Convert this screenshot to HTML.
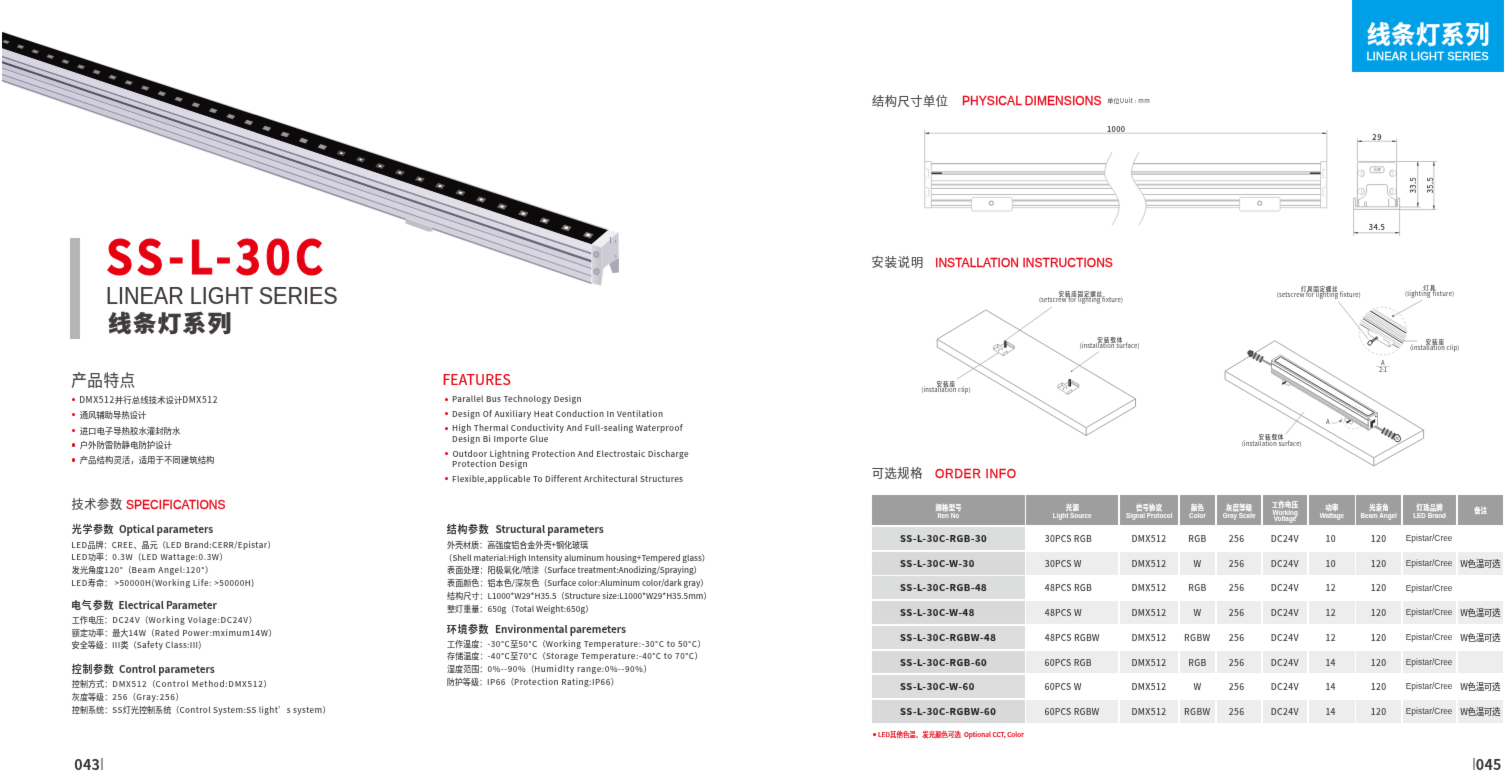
<!DOCTYPE html>
<html lang="zh-CN">
<head>
<meta charset="utf-8">
<title>SS-L-30C 线条灯系列 LINEAR LIGHT SERIES</title>
<style>
html,body{margin:0;padding:0}
html{overflow:hidden;background:#fff}
body{width:1506px;height:776px;position:relative;overflow:hidden;background:#fff;font-family:"Liberation Sans","Noto Sans CJK SC",sans-serif;-webkit-font-smoothing:antialiased}
h1,h2,h3,p,ul,li,table,thead,tbody,tr,th,td,figure{margin:0;padding:0;font-weight:inherit;font-size:inherit;list-style:none;border:0}
table,thead,tbody,tr{display:block}
.t{position:absolute;white-space:pre;display:block}
svg{position:absolute;left:0;top:0;overflow:visible}
.c{letter-spacing:0}
.dot{position:absolute;border-radius:50%;background:#e60012;display:block}
.bar{position:absolute;background:#b5b5b6;display:block}
.rule{position:absolute;background:#9a9a9a;display:block}
.tag{position:absolute;background:#00a0e9}
.tagen{-webkit-text-stroke:.3px #fff}
.tagcn{-webkit-text-stroke:.3px #fff}
.model{-webkit-text-stroke:1.1px #e60012}
.series-cn{-webkit-text-stroke:.35px #3e3a39}
.series-en{-webkit-text-stroke:.2px #3e3a39}
.td1{-webkit-text-stroke:.15px #1f1f1f}
.h3en{-webkit-text-stroke:.3px #e60012}
.h3cn,.h2cn{-webkit-text-stroke:.15px #4a4645}
.h2en{-webkit-text-stroke:.2px #e60012}
.thc{-webkit-text-stroke:.2px #fff}
.note{-webkit-text-stroke:.15px #e60012}
.sheet{position:absolute;left:0;top:0;width:1506px;height:776px;overflow:hidden;background:#fff}
.spread{position:absolute;display:block;left:-12px;top:-12px;width:1530px;height:800px;background:#fff;filter:url(#soft)}
.origin{position:absolute;left:12px;top:12px;width:1506px;height:776px}
.defs{position:absolute;width:0;height:0}
th,td{position:absolute;display:block;box-sizing:border-box}
th{background:#9e9e9f}
td{background:#fff}
tr.even td{background:#ededed}
td.c1{background:#dcdddd}
tr.even td.c1{background:#d9d9da}
.model{font:700 46.2px/67px "Noto Sans CJK SC", "Liberation Sans", sans-serif;color:#e60012}
.series-en{font:400 23.4px/35px "Liberation Sans", "Noto Sans CJK SC", sans-serif;color:#3e3a39}
.series-cn{font:900 24px/36px "Noto Sans CJK SC", "Liberation Sans", sans-serif;color:#3e3a39}
.h2cn{font:400 15.6px/24px "Noto Sans CJK SC", "Liberation Sans", sans-serif;color:#4a4645}
.h2en{font:400 13.9px/21px "Noto Sans CJK SC", "Liberation Sans", sans-serif;color:#e60012}
.h3cn{font:400 12.2px/19px "Noto Sans CJK SC", "Liberation Sans", sans-serif;color:#4a4645}
.h3en{font:400 12.9px/20px "Liberation Sans", "Noto Sans CJK SC", sans-serif;color:#e60012}
.li{font:500 8.45px/14px "Noto Sans CJK SC", "Liberation Sans", sans-serif;color:#444}
.lie{font:500 8.15px/13px "Noto Sans CJK SC", "Liberation Sans", sans-serif;color:#404040}
.h4{font:700 10px/16px "Noto Sans CJK SC", "Liberation Sans", sans-serif;color:#333}
.p{font:500 8.1px/13px "Noto Sans CJK SC", "Liberation Sans", sans-serif;color:#444}
.pn{font:700 14.2px/22px "Noto Sans CJK SC", "Liberation Sans", sans-serif;color:#333}
.tagcn{font:700 24.5px/36px "Noto Sans CJK SC", "Liberation Sans", sans-serif;color:#fff}
.tagen{font:400 11px/17px "Liberation Sans", "Noto Sans CJK SC", sans-serif;color:#fff}
.unit{font:400 6px/10px "Noto Sans CJK SC", "Liberation Sans", sans-serif;color:#444}
.dim{font:500 7.5px/12px "Noto Sans CJK SC", "Liberation Sans", sans-serif;color:#2a2a2a}
.tiny{font:400 3.8px/7px "Noto Sans CJK SC", "Liberation Sans", sans-serif;color:#777}
.lab{font:400 5.9px/10px "Noto Sans CJK SC", "Liberation Sans", sans-serif;color:#3c3c3c}
.labc{font:500 5.6px/10px "Noto Sans CJK SC", "Liberation Sans", sans-serif;color:#3c3c3c}
.thc{font:700 6.3px/11px "Noto Sans CJK SC", "Liberation Sans", sans-serif;color:#fff}
.the{font:700 6.35px/11px "Liberation Sans", "Noto Sans CJK SC", sans-serif;color:#fff}
.td1{font:700 9.5px/15px "Noto Sans CJK SC", "Liberation Sans", sans-serif;color:#1f1f1f}
.td{font:500 8.6px/14px "Noto Sans CJK SC", "Liberation Sans", sans-serif;color:#3c3c3c}
.tdb{font:400 8.4px/14px "Liberation Sans", "Noto Sans CJK SC", sans-serif;color:#3a3a3a}
.note{font:500 6.4px/11px "Noto Sans CJK SC", "Liberation Sans", sans-serif;color:#e60012}</style>
</head>
<body>
<svg class="defs" width="0" height="0" aria-hidden="true"><defs><filter id="soft" color-interpolation-filters="sRGB"><feConvolveMatrix order="3" kernelMatrix="0 1 0 1 10 1 0 1 0" divisor="14" edgeMode="duplicate" preserveAlpha="true"/></filter></defs></svg>
<div class="sheet">
<main class="spread">
<div class="origin">
<section class="page page-left">
<svg class="product" width="640" height="300" viewBox="0 0 640 300" role="img" aria-label="SS-L-30C linear light">
<defs>
<linearGradient id="gb1" gradientUnits="userSpaceOnUse" x1="2" y1="0" x2="592" y2="0"><stop offset="0" stop-color="#d7d5e2"/><stop offset="1" stop-color="#e4e3eb"/></linearGradient>
<linearGradient id="gl1" gradientUnits="userSpaceOnUse" x1="2" y1="0" x2="592" y2="0"><stop offset="0" stop-color="#7d7a8e"/><stop offset="1" stop-color="#8f8d9e"/></linearGradient>
<linearGradient id="gb2" gradientUnits="userSpaceOnUse" x1="2" y1="0" x2="592" y2="0"><stop offset="0" stop-color="#cdcbd9"/><stop offset="1" stop-color="#dcdbe5"/></linearGradient>
<linearGradient id="gl2" gradientUnits="userSpaceOnUse" x1="2" y1="0" x2="592" y2="0"><stop offset="0" stop-color="#514e63"/><stop offset="1" stop-color="#6a687b"/></linearGradient>
<linearGradient id="gb3" gradientUnits="userSpaceOnUse" x1="2" y1="0" x2="592" y2="0"><stop offset="0" stop-color="#c9c7d6"/><stop offset="1" stop-color="#d3d2dd"/></linearGradient>
<linearGradient id="gl3" gradientUnits="userSpaceOnUse" x1="2" y1="0" x2="592" y2="0"><stop offset="0" stop-color="#8d8b9e"/><stop offset="1" stop-color="#a2a0b1"/></linearGradient>
<linearGradient id="gb4" gradientUnits="userSpaceOnUse" x1="2" y1="0" x2="592" y2="0"><stop offset="0" stop-color="#d0cedc"/><stop offset="1" stop-color="#d9d8e2"/></linearGradient>
<linearGradient id="gl4" gradientUnits="userSpaceOnUse" x1="2" y1="0" x2="592" y2="0"><stop offset="0" stop-color="#8f8da0"/><stop offset="1" stop-color="#a5a3b3"/></linearGradient>
<linearGradient id="gb5" gradientUnits="userSpaceOnUse" x1="2" y1="0" x2="592" y2="0"><stop offset="0" stop-color="#cbc9d8"/><stop offset="1" stop-color="#d5d4de"/></linearGradient>
<linearGradient id="gl5" gradientUnits="userSpaceOnUse" x1="2" y1="0" x2="592" y2="0"><stop offset="0" stop-color="#7f7d90"/><stop offset="1" stop-color="#9391a2"/></linearGradient>
<linearGradient id="gcap" x1="0" y1="0" x2="1" y2="0"><stop offset="0" stop-color="#d9d8de"/><stop offset="1" stop-color="#c4c3cb"/></linearGradient>
</defs>
<polygon points="2,80.6 591.5,283.4 592,284.6 2,82" fill="#b9b7c6" opacity=".5"/>
<polygon points="2,31.6 300,128.4 608.8,229.2 609,231 2,33" fill="#d3d2dc"/>
<polygon points="2,31.9 608,230.3 591.5,244.5 2,48.5" fill="#0d0a0b"/>
<polygon points="2,48.3 591.5,244.3 591.5,252.6 2,55.8" fill="url(#gb1)"/>
<polygon points="2,55.8 591.5,252.6 591.5,254.7 2,57.6" fill="url(#gl1)"/>
<polygon points="2,57.6 591.5,254.7 591.5,260.1 2,61.1" fill="url(#gb2)"/>
<polygon points="2,61.1 591.5,260.1 591.5,262.8 2,63.4" fill="url(#gl2)"/>
<polygon points="2,63.4 591.5,262.8 591.5,267.8 2,67.4" fill="url(#gb3)"/>
<polygon points="2,67.4 591.5,267.8 591.5,269.4 2,68.8" fill="url(#gl3)"/>
<polygon points="2,68.8 591.5,269.4 591.5,275.3 2,73.8" fill="url(#gb4)"/>
<polygon points="2,73.8 591.5,275.3 591.5,277.1 2,75.3" fill="url(#gl4)"/>
<polygon points="2,75.3 591.5,277.1 591.5,282.4 2,79.8" fill="url(#gb5)"/>
<polygon points="2,79.8 591.5,282.4 591.5,283.9 2,81.1" fill="url(#gl5)"/>
<g class="leds"><polygon points="4.3,39.71 9.7,41.49 7.7,44.09 2.3,42.31" fill="#787575"/><ellipse cx="6" cy="41.9" rx="1.3" ry="0.8" fill="#a3a1a1"/><polygon points="18.8,44.49 24.26,46.29 22.23,48.94 16.76,47.14" fill="#797676"/><ellipse cx="20.51" cy="46.72" rx="1.3" ry="0.8" fill="#a3a1a1"/><polygon points="33.54,49.35 39.06,51.17 36.99,53.87 31.46,52.05" fill="#7b7878"/><ellipse cx="35.26" cy="51.61" rx="1.3" ry="0.8" fill="#a3a1a1"/><polygon points="48.51,54.29 54.1,56.13 51.99,58.88 46.4,57.04" fill="#7d7a7a"/><ellipse cx="50.25" cy="56.58" rx="1.3" ry="0.8" fill="#a3a1a1"/><polygon points="63.73,59.3 69.38,61.17 67.23,63.97 61.58,62.1" fill="#7f7c7c"/><ellipse cx="65.48" cy="61.64" rx="1.3" ry="0.8" fill="#a3a1a1"/><polygon points="79.18,64.4 84.89,66.29 82.7,69.14 76.99,67.25" fill="#807d7d"/><ellipse cx="80.94" cy="66.77" rx="1.3" ry="0.8" fill="#a3a1a1"/><polygon points="94.86,69.57 100.64,71.48 98.41,74.38 92.64,72.47" fill="#827f7f"/><ellipse cx="96.64" cy="71.98" rx="1.3" ry="0.8" fill="#a3a1a1"/><polygon points="110.79,74.83 116.63,76.75 114.36,79.7 108.53,77.78" fill="#848181"/><ellipse cx="112.58" cy="77.27" rx="1.3" ry="0.8" fill="#a3a1a1"/><polygon points="126.95,80.16 132.85,82.11 130.55,85.11 124.65,83.16" fill="#868383"/><ellipse cx="128.75" cy="82.63" rx="1.3" ry="0.8" fill="#a3a1a1"/><polygon points="143.35,85.57 149.31,87.54 146.98,90.59 141.01,88.62" fill="#888585"/><ellipse cx="145.16" cy="88.08" rx="1.3" ry="0.8" fill="#a3a1a1"/><polygon points="159.99,91.06 166.01,93.05 163.64,96.15 157.62,94.16" fill="#898686"/><ellipse cx="161.81" cy="93.61" rx="1.3" ry="0.8" fill="#a3a1a1"/><polygon points="176.87,96.63 182.95,98.64 180.54,101.79 174.45,99.78" fill="#8b8888"/><ellipse cx="178.7" cy="99.21" rx="1.3" ry="0.8" fill="#a3a1a1"/><polygon points="193.98,102.28 200.13,104.31 197.68,107.51 191.53,105.48" fill="#8d8a8a"/><ellipse cx="195.83" cy="104.89" rx="1.3" ry="0.8" fill="#a3a1a1"/><polygon points="211.33,108 217.54,110.05 215.05,113.3 208.84,111.25" fill="#8f8c8c"/><ellipse cx="213.19" cy="110.65" rx="1.3" ry="0.8" fill="#a3a1a1"/><polygon points="228.92,113.81 235.19,115.88 232.67,119.18 226.39,117.11" fill="#918e8e"/><ellipse cx="230.79" cy="116.49" rx="1.3" ry="0.8" fill="#a3a1a1"/><polygon points="246.74,119.69 253.08,121.78 250.52,125.13 244.18,123.04" fill="#928f8f"/><ellipse cx="248.63" cy="122.41" rx="1.3" ry="0.8" fill="#a3a1a1"/><polygon points="264.8,125.66 271.2,127.77 268.6,131.17 262.2,129.06" fill="#949191"/><ellipse cx="266.7" cy="128.41" rx="1.3" ry="0.8" fill="#a3a1a1"/><polygon points="283.1,131.7 289.57,133.83 286.93,137.28 280.47,135.15" fill="#969393"/><ellipse cx="285.02" cy="134.49" rx="1.3" ry="0.8" fill="#a3a1a1"/><polygon points="301.64,137.82 308.17,139.97 305.49,143.47 298.97,141.32" fill="#989595"/><ellipse cx="303.57" cy="140.64" rx="1.3" ry="0.8" fill="#a3a1a1"/><polygon points="320.42,144.02 327,146.19 324.29,149.74 317.7,147.57" fill="#9a9797"/><ellipse cx="322.35" cy="146.88" rx="1.3" ry="0.8" fill="#a3a1a1"/><polygon points="339.43,150.3 346.08,152.49 343.33,156.09 336.68,153.9" fill="#585250"/><ellipse cx="341.38" cy="153.19" rx="1.3" ry="0.85" fill="#fff"/><polygon points="358.68,156.65 365.39,158.87 362.61,162.52 355.89,160.3" fill="#5b5553"/><ellipse cx="360.64" cy="159.58" rx="1.35" ry="0.89" fill="#fff"/><polygon points="378.17,163.09 384.94,165.32 382.12,169.02 375.34,166.79" fill="#5e5856"/><ellipse cx="380.14" cy="166.06" rx="1.41" ry="0.92" fill="#fff"/><polygon points="397.89,169.6 404.73,171.86 401.87,175.61 395.03,173.35" fill="#625c5a"/><ellipse cx="399.88" cy="172.61" rx="1.46" ry="0.96" fill="#fff"/><polygon points="417.86,176.2 424.76,178.47 421.86,182.27 414.96,180" fill="#655f5d"/><ellipse cx="419.86" cy="179.23" rx="1.52" ry="0.99" fill="#fff"/><polygon points="438.06,182.87 445.02,185.17 442.08,189.02 435.12,186.72" fill="#686260"/><ellipse cx="440.07" cy="185.94" rx="1.57" ry="1.03" fill="#fff"/><polygon points="458.49,189.62 465.52,191.94 462.54,195.84 455.52,193.52" fill="#6c6664"/><ellipse cx="460.52" cy="192.73" rx="1.62" ry="1.06" fill="#fff"/><polygon points="479.17,196.45 486.26,198.79 483.24,202.74 476.16,200.4" fill="#6f6967"/><ellipse cx="481.21" cy="199.59" rx="1.68" ry="1.1" fill="#fff"/><polygon points="500.08,203.36 507.23,205.72 504.18,209.72 497.03,207.36" fill="#726c6a"/><ellipse cx="502.13" cy="206.54" rx="1.73" ry="1.13" fill="#fff"/><polygon points="521.23,210.34 528.44,212.72 525.36,216.77 518.14,214.39" fill="#76706e"/><ellipse cx="523.29" cy="213.56" rx="1.79" ry="1.17" fill="#fff"/><polygon points="542.62,217.41 549.89,219.81 546.77,223.91 539.49,221.51" fill="#797371"/><ellipse cx="544.69" cy="220.66" rx="1.84" ry="1.2" fill="#fff"/><polygon points="564.25,224.56 571.58,226.98 568.42,231.13 561.08,228.71" fill="#7c7674"/><ellipse cx="566.33" cy="227.84" rx="1.9" ry="1.24" fill="#fff"/><polygon points="586.11,231.78 593.51,234.22 590.31,238.42 582.91,235.98" fill="#807a78"/><ellipse cx="588.21" cy="235.1" rx="1.95" ry="1.27" fill="#fff"/></g>
<polygon points="405.5,217 432.5,226.5 432.5,231.5 428,231.6 405.5,223.6" fill="#c0bfc9"/>
<polygon points="405.5,217 432.5,226.5 432.5,228 405.5,218.5" fill="#dad9e1"/>
<polygon points="591.5,244.3 608,230.2 618.6,232.2 601.2,247.4" fill="#efeef2"/>
<polygon points="601.2,247.4 618.6,232.2 618.8,272.2 612.6,273 609.5,263.5 603.5,268.5 601.2,285.6" fill="#cdccd4"/>
<polygon points="591.5,244.3 601.2,247.4 601.2,285.6 592.3,283.6" fill="url(#gcap)"/>
<polygon points="609.3,264 618.8,258 618.8,272.2 612.6,273" fill="#a9a8b3"/>
<ellipse cx="596.3" cy="254.4" rx="2.6" ry="3" fill="#b5b3bf" stroke="#8d8b99" stroke-width=".8"/>
<ellipse cx="596.5" cy="271.6" rx="2.6" ry="3" fill="#b5b3bf" stroke="#8d8b99" stroke-width=".8"/>
<path d="M610.5 237v6.5M615.6 240.2v2.6M615.8 255v2.4" stroke="#9896a3" stroke-width="1.1" fill="none"/>
</svg>
<header class="title">
<i class="bar" style="left:70.1px;top:237.6px;width:9.6px;height:101.4px"></i>
<h1 class="t model" style="left:105.92px;top:220.2px;transform-origin:0 0;transform:scaleX(0.93);letter-spacing:4.66px;">SS-L-30C</h1>
<p class="t series-en" style="left:106.15px;top:278.9px;transform-origin:0 0;transform:scaleX(0.92);">LINEAR LIGHT SERIES</p>
<p class="t series-cn" style="left:108.25px;top:302.56px;transform-origin:0 0;transform:scaleX(1.06);font-size:22.09px;letter-spacing:1.43px;">线条灯系列</p>
</header>
<section class="features-cn">
<h2 class="t h2cn" style="left:71.29px;top:367.2px;letter-spacing:0.46px;">产品特点</h2>
<ul>
<li><span class="t li" style="left:79.13px;top:391.8px;letter-spacing:0.56px;"><i class="dot" style="left:-7.23px;top:6.1px;width:3.2px;height:3.2px"></i>DMX512<span class="c">并行总线技术设计</span>DMX512</span></li>
<li><span class="t li" style="left:79.68px;top:407.1px;letter-spacing:-0.13px;"><i class="dot" style="left:-7.78px;top:6.1px;width:3.2px;height:3.2px"></i>通风辅助导热设计</span></li>
<li><span class="t li" style="left:79.68px;top:422.5px;letter-spacing:-0.05px;"><i class="dot" style="left:-7.78px;top:6.1px;width:3.2px;height:3.2px"></i>进口电子导热胶水灌封防水</span></li>
<li><span class="t li" style="left:79.68px;top:437.4px;letter-spacing:-0.05px;"><i class="dot" style="left:-7.78px;top:6.1px;width:3.2px;height:3.2px"></i>户外防雷防静电防护设计</span></li>
<li><span class="t li" style="left:79.68px;top:452.4px;letter-spacing:-0.01px;"><i class="dot" style="left:-7.78px;top:6.1px;width:3.2px;height:3.2px"></i>产品结构灵活，适用于不同建筑结构</span></li>
</ul></section>
<section class="features-en">
<h2 class="t h2en" style="left:442.49px;top:368.9px;letter-spacing:0.19px;">FEATURES</h2>
<ul>
<li>
<span class="t lie" style="left:452.09px;top:391.9px;letter-spacing:0.32px;"><i class="dot" style="left:-7.19px;top:5.7px;width:3px;height:3px"></i>Parallel Bus Technology Design</span>
</li>
<li>
<span class="t lie" style="left:452.09px;top:406.5px;letter-spacing:0.35px;"><i class="dot" style="left:-7.19px;top:5.7px;width:3px;height:3px"></i>Design Of Auxiliary Heat Conduction In Ventilation</span>
</li>
<li>
<span class="t lie" style="left:452.09px;top:421.2px;letter-spacing:0.33px;"><i class="dot" style="left:-7.19px;top:5.7px;width:3px;height:3px"></i>High Thermal Conductivity And Full-sealing Waterproof</span>
<span class="t lie" style="left:452.09px;top:431.8px;letter-spacing:0.37px;">Design Bi Importe Glue</span>
</li>
<li>
<span class="t lie" style="left:452.39px;top:446.7px;letter-spacing:0.33px;"><i class="dot" style="left:-7.49px;top:5.7px;width:3px;height:3px"></i>Outdoor Lightning Protection And Electrostaic Discharge</span>
<span class="t lie" style="left:452.09px;top:456.9px;letter-spacing:0.42px;">Protection Design</span>
</li>
<li>
<span class="t lie" style="left:452.09px;top:471.8px;letter-spacing:0.29px;"><i class="dot" style="left:-7.19px;top:5.7px;width:3px;height:3px"></i>Flexible,applicable To Different Architectural Structures</span>
</li>
</ul></section>
<section class="specs">
<h2 class="h">
<span class="t h3cn" style="left:71.55px;top:495.1px;letter-spacing:0.6px;">技术参数</span>
<span class="t h3en" style="left:126.13px;top:494.6px;transform-origin:0 0;transform:scaleX(0.93);letter-spacing:0.04px;">SPECIFICATIONS</span>
</h2>
<div class="group">
<h3><span class="t h4" style="left:71.82px;top:521.3px;letter-spacing:0.6px;">光学参数</span><span class="t h4" style="left:118.92px;top:521.3px;letter-spacing:0.01px;">Optical parameters</span></h3>
<p class="t p" style="left:71.29px;top:537.5px;letter-spacing:0.37px;">LED<span class="c">品牌：</span>CREE<span class="c">、晶元（</span>LED Brand:CERR/Epistar<span class="c">）</span></p>
<p class="t p" style="left:71.29px;top:550.3px;letter-spacing:0.54px;">LED<span class="c">功率：</span>0.3W<span class="c">（</span>LED Wattage:0.3W<span class="c">）</span></p>
<p class="t p" style="left:71.84px;top:563.1px;letter-spacing:0.56px;"><span class="c">发光角度</span>120°<span class="c">（</span>Beam Angel:120°<span class="c">）</span></p>
<p class="t p" style="left:71.29px;top:575.9px;letter-spacing:0.49px;">LED<span class="c">寿命：</span> &gt;50000H(Working Life: &gt;50000H)</p>
</div>
<div class="group">
<h3><span class="t h4" style="left:70.92px;top:596.8px;letter-spacing:0.9px;">电气参数</span><span class="t h4" style="left:118.52px;top:596.8px;letter-spacing:-0.09px;">Electrical Parameter</span></h3>
<p class="t p" style="left:71.69px;top:612.5px;letter-spacing:0.65px;"><span class="c">工作电压：</span>DC24V<span class="c">（</span>Working Volage:DC24V<span class="c">）</span></p>
<p class="t p" style="left:71.79px;top:625.5px;letter-spacing:0.54px;"><span class="c">额定功率：最大</span>14W<span class="c">（</span>Rated Power:mximum14W<span class="c">）</span></p>
<p class="t p" style="left:71.54px;top:638.3px;letter-spacing:0.34px;"><span class="c">安全等级：</span>III<span class="c">类（</span>Safety Class:III)</p>
</div>
<div class="group">
<h3><span class="t h4" style="left:71.77px;top:661.3px;letter-spacing:0.62px;">控制参数</span><span class="t h4" style="left:118.92px;top:661.3px;letter-spacing:-0.01px;">Control parameters</span></h3>
<p class="t p" style="left:71.84px;top:676.8px;letter-spacing:0.67px;"><span class="c">控制方式：</span>DMX512<span class="c">（</span>Control Method:DMX512<span class="c">）</span></p>
<p class="t p" style="left:71.79px;top:689.8px;letter-spacing:0.65px;"><span class="c">灰度等级：</span>256<span class="c">（</span>Gray:256<span class="c">）</span></p>
<p class="t p" style="left:71.84px;top:702.8px;letter-spacing:0.35px;"><span class="c">控制系统：</span>SS<span class="c">灯光控制系统（</span>Control System:SS light’s system<span class="c">）</span></p>
</div>
<div class="group">
<h3><span class="t h4" style="left:446.87px;top:521px;letter-spacing:0.59px;">结构参数</span><span class="t h4" style="left:495.52px;top:521px;letter-spacing:-0.02px;">Structural parameters</span></h3>
<p class="t p" style="left:446.99px;top:537.7px;letter-spacing:-0.06px;">外壳材质：高强度铝合金外壳+钢化玻璃</p>
<p class="t p" style="left:444.34px;top:550.5px;">（Shell material:High Intensity aluminum housing+Tempered glass）</p>
<p class="t p" style="left:447.04px;top:563.3px;letter-spacing:-0.07px;"><span class="c">表面处理：阳极氧化</span>/<span class="c">喷涂（</span>Surface treatment:Anodizing/Spraying<span class="c">）</span></p>
<p class="t p" style="left:447.04px;top:576.2px;letter-spacing:-0.02px;"><span class="c">表面颜色：铝本色</span>/<span class="c">深灰色（</span>Surface color:Aluminum color/dark gray<span class="c">）</span></p>
<p class="t p" style="left:447.09px;top:589px;letter-spacing:-0.04px;"><span class="c">结构尺寸：</span>L1000*W29*H35.5<span class="c">（</span>Structure size:L1000*W29*H35.5mm<span class="c">）</span></p>
<p class="t p" style="left:446.99px;top:601.8px;letter-spacing:0.1px;"><span class="c">整灯重量：</span>650g<span class="c">（</span>Total Weight:650g<span class="c">）</span></p>
</div>
<div class="group">
<h3><span class="t h4" style="left:446.82px;top:620.8px;letter-spacing:0.6px;">环境参数</span><span class="t h4" style="left:495.02px;top:620.8px;letter-spacing:-0.05px;">Environmental paremeters</span></h3>
<p class="t p" style="left:446.89px;top:636.6px;letter-spacing:0.47px;"><span class="c">工作温度：</span>-30°C<span class="c">至</span>50°C<span class="c">（</span>Working Temperature:-30°C to 50°C<span class="c">）</span></p>
<p class="t p" style="left:447.04px;top:649.2px;letter-spacing:0.46px;"><span class="c">存储温度：</span>-40°C<span class="c">至</span>70°C<span class="c">（</span>Storage Temperature:-40°C to 70°C<span class="c">）</span></p>
<p class="t p" style="left:446.99px;top:662.2px;letter-spacing:0.55px;"><span class="c">湿度范围：</span>0%--90%<span class="c">（</span>Humidlty range:0%--90%<span class="c">）</span></p>
<p class="t p" style="left:446.64px;top:674.9px;letter-spacing:0.45px;"><span class="c">防护等级：</span>IP66<span class="c">（</span>Protection Rating:IP66<span class="c">）</span></p>
</div>
</section>
<footer class="pageno">
<span class="t pn" style="left:74.35px;top:753.1px;letter-spacing:0.23px;">043</span>
<i class="rule" style="left:101.2px;top:758px;width:1.6px;height:12.2px"></i>
</footer>
</section>
<section class="page page-right">
<div class="tag" style="left:1352px;top:-8px;width:152px;height:80px">
<span class="t tagcn" style="left:14.67px;top:23.17px;font-size:23.92px;letter-spacing:0.78px;">线条灯系列</span>
<span class="t tagen" style="left:14.41px;top:55.6px;letter-spacing:0.21px;">LINEAR LIGHT SERIES</span>
</div>
<section class="dimensions">
<h2 class="h">
<span class="t h3cn" style="left:872.05px;top:91.6px;letter-spacing:0.54px;">结构尺寸单位</span>
<span class="t h3en" style="left:961.57px;top:90.9px;transform-origin:0 0;transform:scaleX(0.93);letter-spacing:0.08px;">PHYSICAL DIMENSIONS</span>
</h2>
<span class="t unit" style="left:1107.25px;top:95.7px;letter-spacing:0.31px;">单位Uuit : mm</span>
<svg class="fig fig-side" width="1506" height="776" viewBox="0 0 1506 776" role="img" aria-label="side view with length dimension">
<defs><clipPath id="cpL"><path d="M900 140 H1112 C1108 160 1104.7 166 1104.7 173.5 C1104.7 183 1119.3 193 1119.3 205.5 C1119.3 212 1116 219 1112 225.3 H900Z"/></clipPath>
<clipPath id="cpR"><path d="M1340 140 H1138.8 C1134.8 160 1131.5 166 1131.5 173.5 C1131.5 183 1146.1 193 1146.1 205.5 C1146.1 212 1142.8 219 1138.8 225.3 H1340Z"/></clipPath></defs>
<g clip-path="url(#cpL)" fill="none">
<path d="M931.3 163.6H1125" stroke="#b4b4b4" stroke-width="1.1"/>
<path d="M931.3 171.9H1125" stroke="#b8b8b8" stroke-width="1.3"/>
<path d="M931.3 174.1H1125" stroke="#a49a9a" stroke-width="1"/>
<path d="M931.3 180.7H1125" stroke="#cdcdcd" stroke-width="1.1"/>
<path d="M931.3 184.7H1125" stroke="#c2c2c2" stroke-width="1.8"/>
<path d="M931.3 188.4H1125" stroke="#bababa" stroke-width="1"/>
<path d="M931.3 194.5H1125" stroke="#bdbdbd" stroke-width="1"/>
<path d="M931.3 200.5H1125" stroke="#bdbdbd" stroke-width="1.9"/>
<path d="M931.3 205.4H1125" stroke="#b6b6b6" stroke-width="1"/>
<path d="M931.3 207.6H1125" stroke="#c8c8c8" stroke-width="0.9"/>
</g>
<g clip-path="url(#cpR)" fill="none">
<path d="M1125 163.6H1320.6" stroke="#b4b4b4" stroke-width="1.1"/>
<path d="M1125 171.9H1320.6" stroke="#b8b8b8" stroke-width="1.3"/>
<path d="M1125 174.1H1320.6" stroke="#a49a9a" stroke-width="1"/>
<path d="M1125 180.7H1320.6" stroke="#cdcdcd" stroke-width="1.1"/>
<path d="M1125 184.7H1320.6" stroke="#c2c2c2" stroke-width="1.8"/>
<path d="M1125 188.4H1320.6" stroke="#bababa" stroke-width="1"/>
<path d="M1125 194.5H1320.6" stroke="#bdbdbd" stroke-width="1"/>
<path d="M1125 200.5H1320.6" stroke="#bdbdbd" stroke-width="1.9"/>
<path d="M1125 205.4H1320.6" stroke="#b6b6b6" stroke-width="1"/>
<path d="M1125 207.6H1320.6" stroke="#c8c8c8" stroke-width="0.9"/>
</g>
<g fill="none" stroke="#b2b2b2" stroke-width=".7">
<path d="M1112 152.2 C1108 160 1104.7 166 1104.7 173.5 C1104.7 183 1119.3 193 1119.3 205.5 C1119.3 212 1116 219 1112 225.3"/><path d="M1138.8 152.2 C1134.8 160 1131.5 166 1131.5 173.5 C1131.5 183 1146.1 193 1146.1 205.5 C1146.1 212 1142.8 219 1138.8 225.3"/>
<path d="M924.7 161.6V207.8H931.3V161.6Z"/>
<path d="M1326.8 161.6V207.8H1320.6V161.6Z"/>
<path d="M926.2 169.3h2.4v8.2h-2.4M926.2 187.6h2.4v8.2h-2.4" stroke-dasharray="1.6 .9"/>
<path d="M1325.3 169.3h-2.4v8.2h2.4M1325.3 187.6h-2.4v8.2h2.4" stroke-dasharray="1.6 .9"/>
</g>
<path d="M931.5 173.2H942M1310 173.2H1320.5" stroke="#3a3030" stroke-width="1.6" fill="none"/>
<rect x="971.6" y="197.4" width="40.6" height="13.6" rx="1.6" fill="#fff" stroke="#c4c4c4" stroke-width=".8"/>
<circle cx="991.3" cy="203.2" r="2.1" fill="#fff" stroke="#777" stroke-width=".8"/>
<rect x="1239.6" y="197.4" width="40.6" height="13.6" rx="1.6" fill="#fff" stroke="#c4c4c4" stroke-width=".8"/>
<circle cx="1259.7" cy="203.2" r="2.1" fill="#fff" stroke="#777" stroke-width=".8"/>
<g fill="none" stroke="#aaa" stroke-width=".7"><path d="M924.7 130V161.5M1326.8 130V161.5M924.7 133.2H1326.8"/></g>
<g fill="#222"><polygon points="924.7,133.2 929.1,132.45 929.1,133.95"/><polygon points="1326.8,133.2 1322.4,133.95 1322.4,132.45"/></g>
</svg>
<span class="t dim" style="left:1107.04px;top:122.7px;letter-spacing:0.31px;">1000</span>
<svg class="fig fig-section" width="1506" height="776" viewBox="0 0 1506 776" role="img" aria-label="cross section with dimensions">
<g fill="none" stroke="#9c9c9c" stroke-width=".7">
<path d="M1357.4 163.4q0-1.9 1.9-1.9h35.3q1.9 0 1.9 1.9V206.4"/>
<path d="M1359 162.1h36" stroke="#c4c4c4" stroke-width="1.5"/>
<path d="M1357.4 163.4V206.4"/>
<path d="M1358.6 206.6V199.5l2.8-1.2q5.2-2.6 5.2-7.4v-4.4q0-1.9 1.9-1.9h17q1.9 0 1.9 1.9v4.4q0 4.8 5.2 7.4l2.8 1.2V206.6"/>
<path d="M1364.6 206.6v-4.4q.9-1.2 1.8 0v4.4M1388.6 206.6V198.4"/>
<path d="M1353.6 198V209.4H1399.6V198M1355.6 198.6V206.8H1397.6V198.6M1353.6 198h2M1397.6 198h2"/>
<path d="M1361.2 170a3.2 3.4 0 1 1 0 6.8" />
<ellipse cx="1359.8" cy="173.4" rx="2" ry="2.6" stroke-dasharray="1.2 .8"/>
<path d="M1392.9 170a3.2 3.4 0 1 0 0 6.8" />
<ellipse cx="1394.3" cy="173.4" rx="2" ry="2.6" stroke-dasharray="1.2 .8"/>
<path d="M1361.2 188a3.2 3.4 0 1 1 0 6.8" />
<ellipse cx="1359.8" cy="191.4" rx="2" ry="2.6" stroke-dasharray="1.2 .8"/>
<path d="M1392.9 188a3.2 3.4 0 1 0 0 6.8" />
<ellipse cx="1394.3" cy="191.4" rx="2" ry="2.6" stroke-dasharray="1.2 .8"/>
<rect x="1370.2" y="166.8" width="13.8" height="5.9" rx="1.4"/>
</g>
<g fill="none" stroke="#a6a6a6" stroke-width=".7">
<path d="M1357.4 138.6V161.4M1396.6 138.6V161.4M1357.4 141.2H1396.6"/>
<path d="M1396.6 161.5H1436.8M1399.6 207H1420.6M1399.6 209.6H1436.8M1417.8 161.5V207M1433.9 161.5V209.6"/>
<path d="M1353.6 209.4V235.8M1399.6 209.4V235.8M1353.6 232.8H1399.6"/>
</g>
<g fill="#222">
<polygon points="1357.4,141.2 1361.6,140.4 1361.6,142"/><polygon points="1396.6,141.2 1392.4,142 1392.4,140.4"/>
<polygon points="1417.8,161.5 1418.6,165.7 1417,165.7"/><polygon points="1417.8,207 1417,202.8 1418.6,202.8"/>
<polygon points="1433.9,161.5 1434.7,165.7 1433.1,165.7"/><polygon points="1433.9,209.6 1433.1,205.4 1434.7,205.4"/>
<polygon points="1353.6,232.8 1357.8,232 1357.8,233.6"/><polygon points="1399.6,232.8 1395.4,233.6 1395.4,232"/>
</g>
</svg>
<span class="t dim" style="left:1372.29px;top:130.7px;letter-spacing:0.78px;">29</span>
<span class="t dim" style="left:1368.84px;top:220.9px;letter-spacing:0.28px;">34.5</span>
<span class="t dim" style="left:1405.34px;top:178.98px;transform-origin:7.96px 6.32px;transform:rotate(-90deg);letter-spacing:0.34px;">33.5</span>
<span class="t dim" style="left:1421.54px;top:178.98px;transform-origin:7.96px 6.32px;transform:rotate(-90deg);letter-spacing:0.34px;">35.5</span>
<span class="t tiny" style="left:1373.3px;top:166.05px;">光源</span>
</section>
<section class="installation">
<h2 class="h">
<span class="t h3cn" style="left:871.6px;top:253.4px;letter-spacing:0.93px;">安装说明</span>
<span class="t h3en" style="left:934.67px;top:252.5px;transform-origin:0 0;transform:scaleX(0.93);letter-spacing:0.05px;">INSTALLATION INSTRUCTIONS</span>
</h2>
<svg class="fig fig-install-a" width="1506" height="776" viewBox="0 0 1506 776" role="img" aria-label="installation clips on the installation surface">
<path d="M937.2 339.2 L985.9 310 L1135.5 398.8 L1086.2 427.7ZM937.2 339.2 L937.2 347 L1086.2 435.5 L1135.5 406.6 L1135.5 398.8M1086.2 427.7V435.5" fill="none" stroke="#8a8a8a" stroke-width=".8" stroke-linejoin="round"/>
<g fill="#fff" stroke="#8a8a8a" stroke-width=".6" stroke-linejoin="round"><path d="M993.4 349.2 L1004.6 343.4 L1014.4 348.6 L1003.1 355.7Z"/><path d="M993.4 349.2 L993.4 346.6 L997.8 344.3 L997.8 346.9Z"/><path d="M997.8 344.3 L1002.4 347.2 L1002.4 349.8 L997.8 346.9Z"/><path d="M1007.6 342.2 L1014.4 345.9 L1014.4 348.6 L1007.6 344.9Z" fill="#d8d8d8"/><path d="M1003.1 355.7 L1003.1 353.4 L1007.2 350.9 L1007.2 353.2Z"/></g><path d="M998.8 351.2 L998.8 349.2" stroke="#777" stroke-width=".8" fill="none"/><rect x="1003.9" y="340.4" width="2.7" height="7.4" rx="1" fill="#2a2424"/><path d="M1004.9 341 L1004.9 346.6" stroke="#fff" stroke-width=".5" fill="none" opacity=".7"/>
<g fill="#fff" stroke="#8a8a8a" stroke-width=".6" stroke-linejoin="round"><path d="M1057.9 387.8 L1069.1 382 L1078.9 387.2 L1067.6 394.3Z"/><path d="M1057.9 387.8 L1057.9 385.2 L1062.3 382.9 L1062.3 385.5Z"/><path d="M1062.3 382.9 L1066.9 385.8 L1066.9 388.4 L1062.3 385.5Z"/><path d="M1072.1 380.8 L1078.9 384.5 L1078.9 387.2 L1072.1 383.5Z" fill="#d8d8d8"/><path d="M1067.6 394.3 L1067.6 392 L1071.7 389.5 L1071.7 391.8Z"/></g><path d="M1063.3 389.8 L1063.3 387.8" stroke="#777" stroke-width=".8" fill="none"/><rect x="1068.4" y="379" width="2.7" height="7.4" rx="1" fill="#2a2424"/><path d="M1069.4 379.6 L1069.4 385.2" stroke="#fff" stroke-width=".5" fill="none" opacity=".7"/>
<g fill="none" stroke="#8a8a8a" stroke-width=".6">
<path d="M1052.2 306.8L1006 340M1098.9 351.7L1071.8 371M957 379L998.6 352.8"/>
</g>
<circle cx="1071.6" cy="371.2" r=".7" fill="#555"/>
</svg>
<span class="t labc" style="left:1058.51px;top:289.15px;letter-spacing:0.75px;">安装座固定螺丝</span>
<span class="t lab" style="left:1038.95px;top:295.4px;letter-spacing:0.19px;">(setscrew for lighting fixture)</span>
<span class="t labc" style="left:1097.36px;top:335.33px;letter-spacing:0.88px;">安装载体</span>
<span class="t lab" style="left:1079.45px;top:341.2px;letter-spacing:0.19px;">(installation surface)</span>
<span class="t labc" style="left:936.41px;top:379.15px;letter-spacing:0.92px;">安装座</span>
<span class="t lab" style="left:921.35px;top:385px;letter-spacing:0.18px;">(installation clip)</span>
<svg class="fig fig-install-b" width="1506" height="776" viewBox="0 0 1506 776" role="img" aria-label="lighting fixture mounted on the installation surface">
<defs><clipPath id="cpd"><circle cx="1382.8" cy="331" r="23.4"/></clipPath></defs>
<path d="M1225.1 371.2 L1274.8 340.8 L1423.6 430 L1373.8 457.7ZM1225.1 371.2 L1225.1 379.4 L1373.8 465.9 L1423.6 438.2 L1423.6 430M1373.8 457.7V465.9" fill="none" stroke="#8a8a8a" stroke-width=".8" stroke-linejoin="round"/>
<path d="M1258 357.6L1274 366.2" stroke="#9a9a9a" stroke-width="2.2" fill="none"/>
<path d="M1250.6 353.6L1262.6 360" stroke="#bdbdbd" stroke-width="5.6" fill="none"/><path d="M1250.6 353.6L1262.6 360" stroke="#4a4a4a" stroke-width="6.8" fill="none" stroke-dasharray="1.6 2.2"/>
<ellipse cx="1250.4" cy="353.4" rx="2.4" ry="3.1" transform="rotate(-28 1250.4 353.4)" fill="#555" stroke="#333" stroke-width=".6"/>
<g stroke="#6a6a6a" stroke-width=".55" stroke-linejoin="round">
<path d="M1271.5 360.6 L1368.3 417.7 L1368.3 430.1 L1271.5 373Z" fill="#fff"/>
<path d="M1271.5 368.4 L1368.3 425.5 L1368.3 429.7 L1271.5 372.6Z" fill="#b4b4b4" stroke="none"/>
<path d="M1280.4 354.9 L1377.5 413 L1368.3 417.7 L1271.5 360.6Z" fill="#fff"/>
<path d="M1368.3 417.7 L1377.5 413 L1377.5 425.4 L1368.3 430.1Z" fill="#fff"/>
</g>
<g fill="none" stroke-linejoin="round">
<path d="M1280.77 356.75 L1374.42 412.7 L1367.98 416 L1274.54 360.75Z" stroke="#1e1e1e" stroke-width=".85"/>
<path d="M1271.5 363.3 L1368.3 420.4" stroke="#333" stroke-width=".8"/>
<path d="M1271.5 370.2 L1368.3 427.3" stroke="#e6e6e6" stroke-width=".7"/>
<path d="M1271.5 368.4 L1368.3 425.5" stroke="#777" stroke-width=".6"/>
</g>
<path d="M1370.4 421.6l4.8-2.5v3.2l-2.2 1.2v3.4l-2.6 1.3Z" fill="#333"/>
<circle cx="1375.9" cy="416.4" r=".8" fill="#333"/><circle cx="1369.9" cy="419.6" r=".7" fill="#333"/>
<path d="M1374.6 426.2L1384 431.2" stroke="#9a9a9a" stroke-width="2.2" fill="none"/>
<path d="M1382.6 430.2L1395.5 437.2" stroke="#bdbdbd" stroke-width="5.6" fill="none"/><path d="M1382.6 430.2L1395.5 437.2" stroke="#4a4a4a" stroke-width="6.8" fill="none" stroke-dasharray="1.6 2.2"/>
<ellipse cx="1397.2" cy="438.2" rx="3" ry="3.6" transform="rotate(-28 1397.2 438.2)" fill="#fff" stroke="#333" stroke-width=".9"/>
<path d="M1395.6 436.4l3.2 3.6M1398.8 436.6l-3.2 3.2" stroke="#333" stroke-width=".6"/>
<g stroke="#8a8a8a" stroke-width=".6" fill="#fff"><path d="M1283.4 379.6l7 3.8-1.4 2.4-6.4-3.2ZM1345.4 417.6l7.6 4-1.4 2.6-7-3.4Z"/></g>
<g stroke="#2e2a2a" stroke-width="1.5" fill="none" stroke-linecap="round"><path d="M1285.6 382l-3 1.9M1350 420.6l-3 1.9"/></g>
<g fill="none" stroke="#b4b4b4" stroke-width=".6" stroke-dasharray="2.4 1.8">
<circle cx="1382.8" cy="331" r="23.8"/>
<circle cx="1353.4" cy="417.6" r="11.4"/>
</g>
<g clip-path="url(#cpd)" fill="none">
<path d="M1340 288.12 L1425 340.82 L1414.46 357.82 L1329.46 305.12Z" fill="#fff" stroke="none"/>
<path d="M1340 288.12L1425 340.82" stroke="#9a9a9a" stroke-width="0.6"/>
<path d="M1339.16 289.48L1424.16 342.18" stroke="#bbb" stroke-width="0.6"/>
<path d="M1338.21 291.01L1423.21 343.71" stroke="#1c1c1c" stroke-width="1"/>
<path d="M1337.05 292.88L1422.05 345.58" stroke="#999" stroke-width="0.6"/>
<path d="M1336.21 294.24L1421.21 346.94" stroke="#aaa" stroke-width="0.6"/>
<path d="M1335.36 295.6L1420.36 348.3" stroke="#888" stroke-width="0.6"/>
<path d="M1334.52 296.96L1419.52 349.66" stroke="#aaa" stroke-width="0.6"/>
<path d="M1333.68 298.32L1418.68 351.02" stroke="#777" stroke-width="0.7"/>
<path d="M1332.73 299.85L1417.73 352.55" stroke="#2e2e2e" stroke-width="0.9"/>
<path d="M1331.36 302.06L1416.36 354.76" stroke="#999" stroke-width="0.6"/>
<path d="M1330.41 303.59L1415.41 356.29" stroke="#aaa" stroke-width="0.6"/>
<path d="M1329.46 305.12L1414.46 357.82" stroke="#555" stroke-width="0.8"/>
<path d="M1368.4 329.6q-1.2 4.6 2.6 6.6l18 10.6 5.6-3.4" stroke="#8a8a8a" stroke-width=".6" fill="#fff"/>
<path d="M1383 338.8l6.2 3.6v4.6" stroke="#8a8a8a" stroke-width=".6"/>
</g>
<path d="M1377.6 337.4l-6.4 4.4" stroke="#2a2626" stroke-width="2.5" fill="none" stroke-dasharray="1.1 .5"/>
<ellipse cx="1370" cy="342.9" rx="1.9" ry="2.5" transform="rotate(38 1370 342.9)" fill="#fff" stroke="#2a2626" stroke-width=".9"/>
<g fill="none" stroke="#8a8a8a" stroke-width=".6">
<path d="M1338.1 301.4L1368.6 339.6M1422.3 300.1L1392.6 316.6M1417 341H1402.6M1285.4 434.5L1304.2 411.9"/>
<path d="M1331.2 423.2q5.4 1.2 9.6-3M1376.2 366.4h13.4" stroke="#aaa"/>
</g>
<path d="M1341.8 419.2l-.8 3.2-2-1.5Z" fill="#555"/>
<path d="M1391.8 317l2.6-.4-1.4-2Z" fill="#555"/>
</svg>
<span class="t labc" style="left:1300.76px;top:283.88px;letter-spacing:0.67px;">灯具固定螺丝</span>
<span class="t lab" style="left:1276.75px;top:289.6px;letter-spacing:0.19px;">(setscrew for lighting fixture)</span>
<span class="t labc" style="left:1423.16px;top:282.83px;letter-spacing:1.03px;">灯具</span>
<span class="t lab" style="left:1404.95px;top:288.8px;letter-spacing:0.32px;">(lighting fixture)</span>
<span class="t labc" style="left:1425.51px;top:337.35px;letter-spacing:0.92px;">安装座</span>
<span class="t lab" style="left:1409.95px;top:343.4px;letter-spacing:0.18px;">(installation clip)</span>
<span class="t labc" style="left:1258.46px;top:432.33px;letter-spacing:0.88px;">安装载体</span>
<span class="t lab" style="left:1241.65px;top:438.8px;letter-spacing:0.19px;">(installation surface)</span>
<span class="t lab" style="left:1381.1px;top:357.85px;">A</span>
<span class="t lab" style="left:1378.89px;top:365.3px;">2:1</span>
<span class="t lab" style="left:1326.1px;top:417.15px;">A</span>
</section>
<section class="order">
<h2 class="h">
<span class="t h3cn" style="left:871.75px;top:464.2px;letter-spacing:0.61px;">可选规格</span>
<span class="t h3en" style="left:934.54px;top:463.6px;transform-origin:0 0;transform:scaleX(0.93);letter-spacing:0.7px;">ORDER INFO</span>
</h2>
<table class="spec"><thead><tr>
<th style="left:872.1px;top:495px;width:152.7px;height:30.3px">
<span class="t thc" style="left:63.48px;top:6.9px;letter-spacing:0.25px;">规格型号</span>
<span class="t the" style="left:65.51px;top:14.6px;">Iten No</span>
</th>
<th style="left:1026.1px;top:495px;width:92.4px;height:30.3px">
<span class="t thc" style="left:39.78px;top:6.9px;letter-spacing:0.25px;">光源</span>
<span class="t the" style="left:26.7px;top:14.6px;">Light Source</span>
</th>
<th style="left:1120.1px;top:495px;width:57.9px;height:30.3px">
<span class="t thc" style="left:15.93px;top:6.85px;letter-spacing:0.25px;">信号协议</span>
<span class="t the" style="left:5.82px;top:14.6px;">Signal Protocol</span>
</th>
<th style="left:1179.7px;top:495px;width:35.5px;height:30.3px">
<span class="t thc" style="left:11.35px;top:6.9px;letter-spacing:0.25px;">颜色</span>
<span class="t the" style="left:9.37px;top:14.6px;">Color</span>
</th>
<th style="left:1217.2px;top:495px;width:43.8px;height:30.3px">
<span class="t thc" style="left:8.91px;top:6.9px;letter-spacing:0.25px;">灰度等级</span>
<span class="t the" style="left:5.46px;top:14.6px;">Gray Scale</span>
</th>
<th style="left:1263px;top:495px;width:44px;height:30.3px">
<span class="t thc" style="left:9.01px;top:3.68px;letter-spacing:0.25px;">工作电压</span>
<span class="t the" style="left:9.56px;top:11.6px;">Working</span>
<span class="t the" style="left:10.86px;top:18.2px;">Voltage</span>
</th>
<th style="left:1309px;top:495px;width:45.6px;height:30.3px">
<span class="t thc" style="left:16.43px;top:6.93px;letter-spacing:0.25px;">功率</span>
<span class="t the" style="left:10.67px;top:14.6px;">Wattage</span>
</th>
<th style="left:1356.1px;top:495px;width:45.1px;height:30.3px">
<span class="t thc" style="left:13.13px;top:6.9px;letter-spacing:0.25px;">光束角</span>
<span class="t the" style="left:4.34px;top:14.6px;">Beam Angel</span>
</th>
<th style="left:1403.2px;top:495px;width:52.8px;height:30.3px">
<span class="t thc" style="left:13.43px;top:6.9px;letter-spacing:0.25px;">灯珠品牌</span>
<span class="t the" style="left:10px;top:14.6px;">LED Brand</span>
</th>
<th style="left:1458px;top:495px;width:45.2px;height:30.3px">
<span class="t thc" style="left:16.2px;top:9.62px;letter-spacing:0.25px;">备注</span>
</th>
</tr></thead><tbody>
<tr class="odd">
<td class="c1" style="left:872.1px;top:527px;width:152.7px;height:22.9px">
<span class="t td1" style="left:27.98px;top:4px;letter-spacing:0.55px;">SS-L-30C-RGB-30</span>
</td>
<td class="c2" style="left:1026.1px;top:527px;width:92.4px;height:22.9px">
<span class="t td" style="left:18.73px;top:4.1px;letter-spacing:0.2px;">30PCS RGB</span>
</td>
<td class="c3" style="left:1120.1px;top:527px;width:57.9px;height:22.9px">
<span class="t td" style="left:11.39px;top:4.1px;letter-spacing:0.35px;">DMX512</span>
</td>
<td class="c4" style="left:1179.7px;top:527px;width:35.5px;height:22.9px">
<span class="t td" style="left:8.46px;top:4.1px;letter-spacing:0.35px;">RGB</span>
</td>
<td class="c5" style="left:1217.2px;top:527px;width:43.8px;height:22.9px">
<span class="t td" style="left:11.52px;top:4.1px;letter-spacing:0.35px;">256</span>
</td>
<td class="c6" style="left:1263px;top:527px;width:44px;height:22.9px">
<span class="t td" style="left:7.64px;top:4.1px;letter-spacing:0.35px;">DC24V</span>
</td>
<td class="c7" style="left:1309px;top:527px;width:45.6px;height:22.9px">
<span class="t td" style="left:16.47px;top:4.1px;letter-spacing:0.35px;">10</span>
</td>
<td class="c8" style="left:1356.1px;top:527px;width:45.1px;height:22.9px">
<span class="t td" style="left:14.7px;top:4.1px;letter-spacing:0.35px;">120</span>
</td>
<td class="c9" style="left:1403.2px;top:527px;width:52.8px;height:22.9px">
<span class="t tdb" style="left:2.58px;top:4.2px;letter-spacing:0.02px;">Epistar/Cree</span>
</td>
<td class="c10" style="left:1458px;top:527px;width:45.2px;height:22.9px">
</td>
</tr>
<tr class="even">
<td class="c1" style="left:872.1px;top:551.7px;width:152.7px;height:22.9px">
<span class="t td1" style="left:27.98px;top:4px;letter-spacing:0.55px;">SS-L-30C-W-30</span>
</td>
<td class="c2" style="left:1026.1px;top:551.7px;width:92.4px;height:22.9px">
<span class="t td" style="left:18.73px;top:4.1px;letter-spacing:0.2px;">30PCS W</span>
</td>
<td class="c3" style="left:1120.1px;top:551.7px;width:57.9px;height:22.9px">
<span class="t td" style="left:11.39px;top:4.1px;letter-spacing:0.35px;">DMX512</span>
</td>
<td class="c4" style="left:1179.7px;top:551.7px;width:35.5px;height:22.9px">
<span class="t td" style="left:13.93px;top:4.1px;letter-spacing:0.35px;">W</span>
</td>
<td class="c5" style="left:1217.2px;top:551.7px;width:43.8px;height:22.9px">
<span class="t td" style="left:11.52px;top:4.1px;letter-spacing:0.35px;">256</span>
</td>
<td class="c6" style="left:1263px;top:551.7px;width:44px;height:22.9px">
<span class="t td" style="left:7.64px;top:4.1px;letter-spacing:0.35px;">DC24V</span>
</td>
<td class="c7" style="left:1309px;top:551.7px;width:45.6px;height:22.9px">
<span class="t td" style="left:16.47px;top:4.1px;letter-spacing:0.35px;">10</span>
</td>
<td class="c8" style="left:1356.1px;top:551.7px;width:45.1px;height:22.9px">
<span class="t td" style="left:14.7px;top:4.1px;letter-spacing:0.35px;">120</span>
</td>
<td class="c9" style="left:1403.2px;top:551.7px;width:52.8px;height:22.9px">
<span class="t tdb" style="left:2.58px;top:4.2px;letter-spacing:0.02px;">Epistar/Cree</span>
</td>
<td class="c10" style="left:1458px;top:551.7px;width:45.2px;height:22.9px">
<span class="t td" style="left:2.18px;top:4.1px;letter-spacing:-0.41px;">W色温可选</span>
</td>
</tr>
<tr class="odd">
<td class="c1" style="left:872.1px;top:576.4px;width:152.7px;height:22.9px">
<span class="t td1" style="left:27.98px;top:4px;letter-spacing:0.55px;">SS-L-30C-RGB-48</span>
</td>
<td class="c2" style="left:1026.1px;top:576.4px;width:92.4px;height:22.9px">
<span class="t td" style="left:18.78px;top:4.1px;letter-spacing:0.2px;">48PCS RGB</span>
</td>
<td class="c3" style="left:1120.1px;top:576.4px;width:57.9px;height:22.9px">
<span class="t td" style="left:11.39px;top:4.1px;letter-spacing:0.35px;">DMX512</span>
</td>
<td class="c4" style="left:1179.7px;top:576.4px;width:35.5px;height:22.9px">
<span class="t td" style="left:8.46px;top:4.1px;letter-spacing:0.35px;">RGB</span>
</td>
<td class="c5" style="left:1217.2px;top:576.4px;width:43.8px;height:22.9px">
<span class="t td" style="left:11.52px;top:4.1px;letter-spacing:0.35px;">256</span>
</td>
<td class="c6" style="left:1263px;top:576.4px;width:44px;height:22.9px">
<span class="t td" style="left:7.64px;top:4.1px;letter-spacing:0.35px;">DC24V</span>
</td>
<td class="c7" style="left:1309px;top:576.4px;width:45.6px;height:22.9px">
<span class="t td" style="left:16.47px;top:4.1px;letter-spacing:0.35px;">12</span>
</td>
<td class="c8" style="left:1356.1px;top:576.4px;width:45.1px;height:22.9px">
<span class="t td" style="left:14.7px;top:4.1px;letter-spacing:0.35px;">120</span>
</td>
<td class="c9" style="left:1403.2px;top:576.4px;width:52.8px;height:22.9px">
<span class="t tdb" style="left:2.58px;top:4.2px;letter-spacing:0.02px;">Epistar/Cree</span>
</td>
<td class="c10" style="left:1458px;top:576.4px;width:45.2px;height:22.9px">
</td>
</tr>
<tr class="even">
<td class="c1" style="left:872.1px;top:601.1px;width:152.7px;height:22.9px">
<span class="t td1" style="left:27.98px;top:4px;letter-spacing:0.55px;">SS-L-30C-W-48</span>
</td>
<td class="c2" style="left:1026.1px;top:601.1px;width:92.4px;height:22.9px">
<span class="t td" style="left:18.78px;top:4.1px;letter-spacing:0.2px;">48PCS W</span>
</td>
<td class="c3" style="left:1120.1px;top:601.1px;width:57.9px;height:22.9px">
<span class="t td" style="left:11.39px;top:4.1px;letter-spacing:0.35px;">DMX512</span>
</td>
<td class="c4" style="left:1179.7px;top:601.1px;width:35.5px;height:22.9px">
<span class="t td" style="left:13.93px;top:4.1px;letter-spacing:0.35px;">W</span>
</td>
<td class="c5" style="left:1217.2px;top:601.1px;width:43.8px;height:22.9px">
<span class="t td" style="left:11.52px;top:4.1px;letter-spacing:0.35px;">256</span>
</td>
<td class="c6" style="left:1263px;top:601.1px;width:44px;height:22.9px">
<span class="t td" style="left:7.64px;top:4.1px;letter-spacing:0.35px;">DC24V</span>
</td>
<td class="c7" style="left:1309px;top:601.1px;width:45.6px;height:22.9px">
<span class="t td" style="left:16.47px;top:4.1px;letter-spacing:0.35px;">12</span>
</td>
<td class="c8" style="left:1356.1px;top:601.1px;width:45.1px;height:22.9px">
<span class="t td" style="left:14.7px;top:4.1px;letter-spacing:0.35px;">120</span>
</td>
<td class="c9" style="left:1403.2px;top:601.1px;width:52.8px;height:22.9px">
<span class="t tdb" style="left:2.58px;top:4.2px;letter-spacing:0.02px;">Epistar/Cree</span>
</td>
<td class="c10" style="left:1458px;top:601.1px;width:45.2px;height:22.9px">
<span class="t td" style="left:2.18px;top:4.1px;letter-spacing:-0.41px;">W色温可选</span>
</td>
</tr>
<tr class="odd">
<td class="c1" style="left:872.1px;top:625.8px;width:152.7px;height:22.9px">
<span class="t td1" style="left:27.98px;top:4px;letter-spacing:0.55px;">SS-L-30C-RGBW-48</span>
</td>
<td class="c2" style="left:1026.1px;top:625.8px;width:92.4px;height:22.9px">
<span class="t td" style="left:18.78px;top:4.1px;letter-spacing:0.2px;">48PCS RGBW</span>
</td>
<td class="c3" style="left:1120.1px;top:625.8px;width:57.9px;height:22.9px">
<span class="t td" style="left:11.39px;top:4.1px;letter-spacing:0.35px;">DMX512</span>
</td>
<td class="c4" style="left:1179.7px;top:625.8px;width:35.5px;height:22.9px">
<span class="t td" style="left:4.4px;top:4.1px;letter-spacing:0.35px;">RGBW</span>
</td>
<td class="c5" style="left:1217.2px;top:625.8px;width:43.8px;height:22.9px">
<span class="t td" style="left:11.52px;top:4.1px;letter-spacing:0.35px;">256</span>
</td>
<td class="c6" style="left:1263px;top:625.8px;width:44px;height:22.9px">
<span class="t td" style="left:7.64px;top:4.1px;letter-spacing:0.35px;">DC24V</span>
</td>
<td class="c7" style="left:1309px;top:625.8px;width:45.6px;height:22.9px">
<span class="t td" style="left:16.47px;top:4.1px;letter-spacing:0.35px;">12</span>
</td>
<td class="c8" style="left:1356.1px;top:625.8px;width:45.1px;height:22.9px">
<span class="t td" style="left:14.7px;top:4.1px;letter-spacing:0.35px;">120</span>
</td>
<td class="c9" style="left:1403.2px;top:625.8px;width:52.8px;height:22.9px">
<span class="t tdb" style="left:2.58px;top:4.2px;letter-spacing:0.02px;">Epistar/Cree</span>
</td>
<td class="c10" style="left:1458px;top:625.8px;width:45.2px;height:22.9px">
<span class="t td" style="left:2.18px;top:4.1px;letter-spacing:-0.41px;">W色温可选</span>
</td>
</tr>
<tr class="even">
<td class="c1" style="left:872.1px;top:650.5px;width:152.7px;height:22.9px">
<span class="t td1" style="left:27.98px;top:4px;letter-spacing:0.55px;">SS-L-30C-RGB-60</span>
</td>
<td class="c2" style="left:1026.1px;top:650.5px;width:92.4px;height:22.9px">
<span class="t td" style="left:18.53px;top:4.1px;letter-spacing:0.2px;">60PCS RGB</span>
</td>
<td class="c3" style="left:1120.1px;top:650.5px;width:57.9px;height:22.9px">
<span class="t td" style="left:11.39px;top:4.1px;letter-spacing:0.35px;">DMX512</span>
</td>
<td class="c4" style="left:1179.7px;top:650.5px;width:35.5px;height:22.9px">
<span class="t td" style="left:8.46px;top:4.1px;letter-spacing:0.35px;">RGB</span>
</td>
<td class="c5" style="left:1217.2px;top:650.5px;width:43.8px;height:22.9px">
<span class="t td" style="left:11.52px;top:4.1px;letter-spacing:0.35px;">256</span>
</td>
<td class="c6" style="left:1263px;top:650.5px;width:44px;height:22.9px">
<span class="t td" style="left:7.64px;top:4.1px;letter-spacing:0.35px;">DC24V</span>
</td>
<td class="c7" style="left:1309px;top:650.5px;width:45.6px;height:22.9px">
<span class="t td" style="left:16.39px;top:4.1px;letter-spacing:0.35px;">14</span>
</td>
<td class="c8" style="left:1356.1px;top:650.5px;width:45.1px;height:22.9px">
<span class="t td" style="left:14.7px;top:4.1px;letter-spacing:0.35px;">120</span>
</td>
<td class="c9" style="left:1403.2px;top:650.5px;width:52.8px;height:22.9px">
<span class="t tdb" style="left:2.58px;top:4.2px;letter-spacing:0.02px;">Epistar/Cree</span>
</td>
<td class="c10" style="left:1458px;top:650.5px;width:45.2px;height:22.9px">
</td>
</tr>
<tr class="odd">
<td class="c1" style="left:872.1px;top:675.2px;width:152.7px;height:22.9px">
<span class="t td1" style="left:27.98px;top:4px;letter-spacing:0.55px;">SS-L-30C-W-60</span>
</td>
<td class="c2" style="left:1026.1px;top:675.2px;width:92.4px;height:22.9px">
<span class="t td" style="left:18.53px;top:4.1px;letter-spacing:0.2px;">60PCS W</span>
</td>
<td class="c3" style="left:1120.1px;top:675.2px;width:57.9px;height:22.9px">
<span class="t td" style="left:11.39px;top:4.1px;letter-spacing:0.35px;">DMX512</span>
</td>
<td class="c4" style="left:1179.7px;top:675.2px;width:35.5px;height:22.9px">
<span class="t td" style="left:13.93px;top:4.1px;letter-spacing:0.35px;">W</span>
</td>
<td class="c5" style="left:1217.2px;top:675.2px;width:43.8px;height:22.9px">
<span class="t td" style="left:11.52px;top:4.1px;letter-spacing:0.35px;">256</span>
</td>
<td class="c6" style="left:1263px;top:675.2px;width:44px;height:22.9px">
<span class="t td" style="left:7.64px;top:4.1px;letter-spacing:0.35px;">DC24V</span>
</td>
<td class="c7" style="left:1309px;top:675.2px;width:45.6px;height:22.9px">
<span class="t td" style="left:16.39px;top:4.1px;letter-spacing:0.35px;">14</span>
</td>
<td class="c8" style="left:1356.1px;top:675.2px;width:45.1px;height:22.9px">
<span class="t td" style="left:14.7px;top:4.1px;letter-spacing:0.35px;">120</span>
</td>
<td class="c9" style="left:1403.2px;top:675.2px;width:52.8px;height:22.9px">
<span class="t tdb" style="left:2.58px;top:4.2px;letter-spacing:0.02px;">Epistar/Cree</span>
</td>
<td class="c10" style="left:1458px;top:675.2px;width:45.2px;height:22.9px">
<span class="t td" style="left:2.18px;top:4.1px;letter-spacing:-0.41px;">W色温可选</span>
</td>
</tr>
<tr class="even">
<td class="c1" style="left:872.1px;top:699.9px;width:152.7px;height:22.9px">
<span class="t td1" style="left:27.98px;top:4px;letter-spacing:0.55px;">SS-L-30C-RGBW-60</span>
</td>
<td class="c2" style="left:1026.1px;top:699.9px;width:92.4px;height:22.9px">
<span class="t td" style="left:18.53px;top:4.1px;letter-spacing:0.2px;">60PCS RGBW</span>
</td>
<td class="c3" style="left:1120.1px;top:699.9px;width:57.9px;height:22.9px">
<span class="t td" style="left:11.39px;top:4.1px;letter-spacing:0.35px;">DMX512</span>
</td>
<td class="c4" style="left:1179.7px;top:699.9px;width:35.5px;height:22.9px">
<span class="t td" style="left:4.4px;top:4.1px;letter-spacing:0.35px;">RGBW</span>
</td>
<td class="c5" style="left:1217.2px;top:699.9px;width:43.8px;height:22.9px">
<span class="t td" style="left:11.52px;top:4.1px;letter-spacing:0.35px;">256</span>
</td>
<td class="c6" style="left:1263px;top:699.9px;width:44px;height:22.9px">
<span class="t td" style="left:7.64px;top:4.1px;letter-spacing:0.35px;">DC24V</span>
</td>
<td class="c7" style="left:1309px;top:699.9px;width:45.6px;height:22.9px">
<span class="t td" style="left:16.39px;top:4.1px;letter-spacing:0.35px;">14</span>
</td>
<td class="c8" style="left:1356.1px;top:699.9px;width:45.1px;height:22.9px">
<span class="t td" style="left:14.7px;top:4.1px;letter-spacing:0.35px;">120</span>
</td>
<td class="c9" style="left:1403.2px;top:699.9px;width:52.8px;height:22.9px">
<span class="t tdb" style="left:2.58px;top:4.2px;letter-spacing:0.02px;">Epistar/Cree</span>
</td>
<td class="c10" style="left:1458px;top:699.9px;width:45.2px;height:22.9px">
<span class="t td" style="left:2.18px;top:4.1px;letter-spacing:-0.41px;">W色温可选</span>
</td>
</tr>
</tbody></table>
<p class="footnote">
<span class="t note" style="left:877.95px;top:728.9px;letter-spacing:0.06px;"><i class="dot" style="left:-5.05px;top:3.9px;width:3.6px;height:3.6px"></i>LED其他色温、发光颜色可选  Optional CCT, Color</span>
</p>
</section>
<footer class="pageno">
<i class="rule" style="left:1473.1px;top:758px;width:1.6px;height:12.2px"></i>
<span class="t pn" style="left:1475.85px;top:753.1px;letter-spacing:0.18px;">045</span>
</footer>
</section>
</div>
</main>
</div>
</body>
</html>
